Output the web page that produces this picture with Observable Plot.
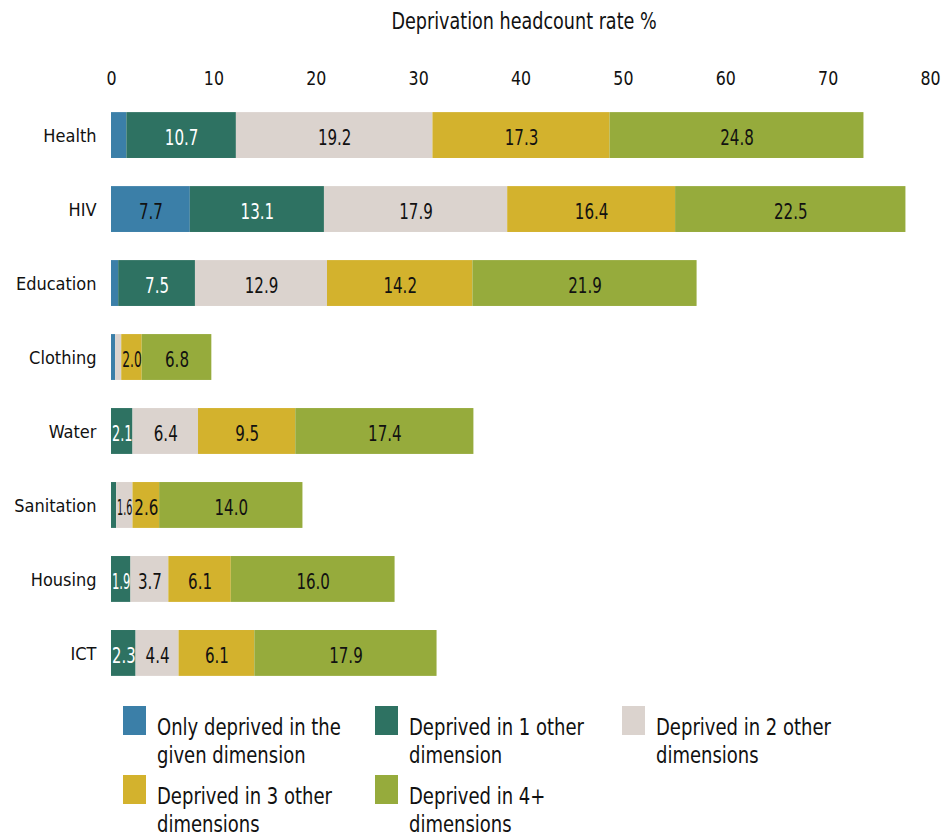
<!DOCTYPE html>
<html>
<head>
<meta charset="utf-8">
<script src="https://cdn.jsdelivr.net/npm/d3@7"></script>
<script src="https://cdn.jsdelivr.net/npm/@observablehq/plot@0.6"></script>
<style>
  html, body { margin: 0; padding: 0; background: #fff; }
  body { width: 943px; font-family: "DejaVu Sans Condensed", "DejaVu Sans", sans-serif; color: #111; }
  #title { height: 42px; line-height: 42px; font-size: 23px; text-align: center; padding-left: 111px; padding-right: 5px; white-space: nowrap; }
  #title span { display: inline-block; transform: scaleX(0.85); transform-origin: center; }
  #chart svg { display: block; }
  #legend { position: relative; height: 130px; }
  .sw { position: absolute; width: 23px; height: 29px; }
  .lt { position: absolute; font-size: 23px; line-height: 28px; white-space: nowrap; transform: scaleX(0.87); transform-origin: left top; }
</style>
</head>
<body>
<div id="title"><span>Deprivation headcount rate %</span></div>
<div id="chart"></div>
<div id="legend"></div>
<script>
const categories = ["Health", "HIV", "Education", "Clothing", "Water", "Sanitation", "Housing", "ICT"];
const only  = [1.5, 7.7, 0.7, 0.4, 0, 0, 0, 0];
const one   = [10.7, 13.1, 7.5, 0, 2.1, 0.5, 1.9, 2.4];
const two   = [19.2, 17.9, 12.9, 0.6, 6.4, 1.6, 3.7, 4.2];
const three = [17.3, 16.4, 14.2, 2.0, 9.5, 2.6, 6.1, 7.4];
const four  = [24.8, 22.5, 21.9, 6.8, 17.4, 14.0, 16.0, 17.8];
const onlyLabels  = ["", "7.7", "", "", "", "", "", ""];
const oneLabels   = ["10.7", "13.1", "7.5", "", "2.1", "", "1.9", "2.3"];
const twoLabels   = ["19.2", "17.9", "12.9", "", "6.4", "1.6", "3.7", "4.4"];
const threeLabels = ["17.3", "16.4", "14.2", "2.0", "9.5", "2.6", "6.1", "6.1"];
const fourLabels  = ["24.8", "22.5", "21.9", "6.8", "17.4", "14.0", "16.0", "17.9"];
const seriesNames = [
  "Only deprived in the<br>given dimension",
  "Deprived in 1 other<br>dimension",
  "Deprived in 2 other<br>dimensions",
  "Deprived in 3 other<br>dimensions",
  "Deprived in 4+<br>dimensions"
];
const seriesColors = ["#3b7fa8", "#2e7262", "#dbd3ce", "#d3b22d", "#96ab3c"];
const xTicks = [0, 10, 20, 30, 40, 50, 60, 70, 80];

const seriesValues = [only, one, two, three, four];
const seriesLabels = [onlyLabels, oneLabels, twoLabels, threeLabels, fourLabels];

const data = [];
categories.forEach((cat, i) => {
  seriesValues.forEach((vals, s) => {
    data.push({
      cat,
      s,
      value: vals[i],
      label: seriesLabels[s][i] || null,
      color: seriesColors[s],
      textColor: s === 1 ? "#ffffff" : "#111111"
    });
  });
});

const axisColor = "#ddd8d2";
const FONT = '"DejaVu Sans Condensed", "DejaVu Sans", sans-serif';

const chart = Plot.plot({
  width: 943,
  height: 664,
  marginLeft: 111,
  marginRight: 13,
  marginTop: 42,
  marginBottom: 2,
  style: { fontFamily: FONT, color: "#111", background: "#fff" },
  x: { domain: [0, 80] },
  y: { domain: categories, padding: 0.38, round: false },
  color: { type: "identity" },
  marks: [
    Plot.ruleX(categories.slice(0, 6), { x: 0, y: d => d, stroke: axisColor, strokeWidth: 2, dx: -1, insetTop: -7, insetBottom: -28 }),
    Plot.ruleX(categories.slice(6, 7), { x: 0, y: d => d, stroke: axisColor, strokeWidth: 2, dx: -1 }),
    Plot.barX(data, Plot.stackX({ y: "cat", x: "value", z: "s", fill: "color" })),
    Plot.text(data, Plot.stackX({ y: "cat", x: "value", z: "s", text: "label", fill: "textColor", fontSize: 21, dy: 3 })),
    Plot.axisX({ anchor: "top", ticks: xTicks, tickSize: 0, tickPadding: 0, dy: 0, fontSize: 20, label: null, tickFormat: d => String(d) }),
    Plot.axisY({ tickSize: 0, tickPadding: 15, fontSize: 18, label: null, dy: 1 })
  ]
});
document.getElementById("chart").appendChild(chart);

// condense text horizontally (reference uses a condensed typeface)
const xScale = chart.scale("x");
const pxPerUnit = (xScale.range[1] - xScale.range[0]) / (xScale.domain[1] - xScale.domain[0]);
function condense(selector, k, fitFn) {
  chart.querySelectorAll(selector).forEach(t => {
    const L = t.getComputedTextLength();
    if (!(L > 0)) return;
    let target = L * k;
    if (fitFn) target = Math.min(target, fitFn(t));
    t.setAttribute("textLength", target.toFixed(1));
    t.setAttribute("lengthAdjust", "spacingAndGlyphs");
  });
}
condense('g[aria-label="text"] text', 0.8, t => {
  const i = t.__data__;
  const d = typeof i === "number" ? data[i] : null;
  return d ? Math.max(d.value * pxPerUnit - 1, 10) : Infinity;
});
condense('g[aria-label="x-axis tick label"] text', 0.88);
condense('g[aria-label="y-axis tick label"] text', 1.0);

const legend = document.getElementById("legend");
const lefts = [123, 375, 622];
seriesNames.forEach((name, i) => {
  const col = i % 3, row = Math.floor(i / 3);
  const left = lefts[col], top = row * 69;
  const sw = document.createElement("div");
  sw.className = "sw";
  sw.style.left = left + "px";
  sw.style.top = top + "px";
  sw.style.background = seriesColors[i];
  legend.appendChild(sw);
  const t = document.createElement("div");
  t.className = "lt";
  t.style.left = (left + 34) + "px";
  t.style.top = (top + 7) + "px";
  t.innerHTML = name;
  legend.appendChild(t);
});
</script>
</body>
</html>
